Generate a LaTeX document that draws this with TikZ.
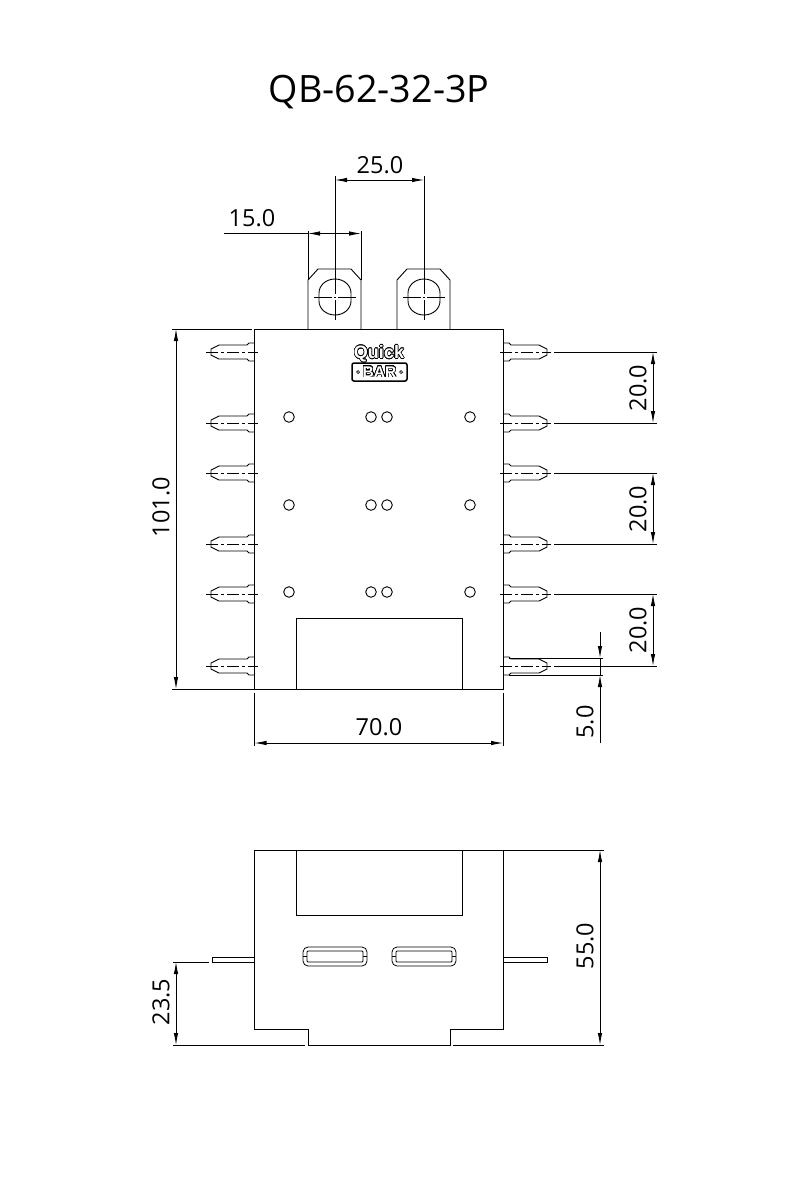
\documentclass[tikz,border=0pt]{standalone}
\usepackage{fontspec}
\setmainfont{Open Sans}
\newfontfamily\logofont{Liberation Sans}
\usepackage{contour}
\contourlength{0.55pt}
\contournumber{24}
\usetikzlibrary{arrows.meta}
\begin{document}
\begin{tikzpicture}[
		x=1pt, y=-1pt,
		line width=0.9pt,
		outline/.style={line width=0.9pt},
		thin line/.style={line width=0.8pt},
		center line/.style={line width=0.8pt, dash pattern=on 12pt off 3pt on 3pt off 3pt},
		dim line/.style={line width=0.8pt, {Latex[length=12pt,width=4.5pt]}-{Latex[length=12pt,width=4.5pt]}},
		dim out/.style={line width=0.8pt, -{Latex[length=12pt,width=4.5pt]}},
		dim label/.style={font=\fontsize{23.5}{25}\selectfont, inner sep=0pt},
		dim label v/.style={dim label, rotate=90},
		hole/.style={line width=0.9pt}
		]
	\useasboundingbox (0, 0) rectangle (800, 1200);
	
	% Title
	\node[font=\fontsize{37.7}{40}\selectfont, inner sep=0pt] (title) at (379, 92) {QB-62-32-3P};
	
	% Body, top view
	\draw[outline] (254.5, 329) rectangle (503, 689);
	\draw[outline] (296.5, 689) -- (296.5, 618) -- (462, 618) -- (462, 689);
	
	% Terminals
	\foreach \x in {308, 397}{
		\draw[outline] (\x, 329) -- (\x, 280) -- (\x+10, 269) -- (\x+43, 269) -- (\x+53, 280) -- (\x+53, 329);
	}
	\foreach \x in {335, 424}{
		\draw[outline] (\x-16, 293) arc (180:360:16 and 14) -- (\x+16, 301) arc (0:180:16 and 14) -- cycle;
		\draw[thin line] (\x-21, 297) -- (\x-3, 297);
		\draw[thin line] (\x-1, 297) -- (\x+1, 297);
		\draw[thin line] (\x+3, 297) -- (\x+21, 297);
		\draw[thin line] (\x, 272) -- (\x, 294);
		\draw[thin line] (\x, 300) -- (\x, 320);
	}
	
	% Pins
	\foreach \y in {352, 423, 473, 544, 594, 666}{
		\draw[outline] (254.5, \y-9) -- (249, \y-9) -- (247, \y-7) -- (219, \y-7) -- (211, \y-3) -- (211, \y+3) -- (219, \y+7) -- (247, \y+7) -- (249, \y+9) -- (254.5, \y+9);
		\draw[outline] (503, \y-9) -- (509, \y-9) -- (511, \y-7) -- (539, \y-7) -- (547, \y-3) -- (547, \y+3) -- (539, \y+7) -- (511, \y+7) -- (509, \y+9) -- (503, \y+9);
		\draw[center line] (206, \y) -- (258, \y);
		\draw[center line] (500, \y) -- (551, \y);
	}
	
	% Small holes
	\foreach \y in {417, 505, 592}{
		\foreach \x in {289, 371, 387, 470}{
			\draw[hole] (\x, \y) circle (5.3);
		}
	}
	
	% Logo
	\node[font=\logofont\bfseries\fontsize{18}{18}\selectfont, inner sep=0pt, text=white] (quick) at (379, 354) {\contour{black}{Quick}};
	\draw[line width=1.5pt, rounded corners=2pt] (352, 363) rectangle (407, 381);
	\node[font=\logofont\bfseries\fontsize{15.5}{16}\selectfont, inner sep=0pt, text=white] (bar) at (379.5, 372) {\contour{black}{BAR}};
	\foreach \x in {358, 401}{
		\draw[line width=0.7pt] (\x, 372) circle (1.5);
	}
	
	% Dimension 25.0
	\draw[thin line] (335, 176) -- (335, 272);
	\draw[thin line] (424, 176) -- (424, 272);
	\draw[dim line] (335, 180) -- (424, 180);
	\node[dim label] (dim25) at (380, 165) {25.0};
	
	% Dimension 15.0
	\draw[thin line] (308, 231) -- (308, 280);
	\draw[thin line] (361, 231) -- (361, 280);
	\draw[thin line] (224, 233.5) -- (308, 233.5);
	\draw[dim line] (308, 233.5) -- (361, 233.5);
	\node[dim label] (dim15) at (252, 218) {15.0};
	
	% Dimension 101.0
	\draw[thin line] (172, 329) -- (252, 329);
	\draw[thin line] (172, 689) -- (254.5, 689);
	\draw[dim line] (176, 329) -- (176, 689);
	\node[dim label v] (dim101) at (161, 507) {101.0};
	
	% Dimension 70.0
	\draw[thin line] (254.5, 693) -- (254.5, 746);
	\draw[thin line] (503, 693) -- (503, 746);
	\draw[dim line] (254.5, 743) -- (503, 743);
	\node[dim label] (dim70) at (379, 727) {70.0};
	
	% Dimensions 20.0
	\foreach \a/\b/\c/\n in {352/423/388/a, 473/544/509/b, 594/666/630/c}{
		\draw[thin line] (554, \a) -- (657, \a);
		\draw[thin line] (554, \b) -- (657, \b);
		\draw[dim line] (653, \a) -- (653, \b);
		\node[dim label v] (dim20\n) at (638, \c) {20.0};
	}
	
	% Dimension 5.0
	\draw[thin line] (509, 658) -- (603, 658);
	\draw[thin line] (509, 675) -- (603, 675);
	\draw[dim out] (600, 632) -- (600, 658);
	\draw[dim out] (600, 743) -- (600, 675);
	\draw[thin line] (600, 658) -- (600, 675);
	\node[dim label v] (dim5) at (585, 722) {5.0};
	
	% Bottom view
	\draw[outline] (254.5, 850) -- (503, 850) -- (503, 1029) -- (450, 1029) -- (450, 1045) -- (308, 1045) -- (308, 1029) -- (254.5, 1029) -- cycle;
	\draw[outline] (296.5, 850) -- (296.5, 915) -- (462, 915) -- (462, 850);
	\draw[outline] (254.5, 957) -- (212, 957) -- (212, 962) -- (254.5, 962);
	\draw[outline] (503, 957) -- (547, 957) -- (547, 962) -- (503, 962);
	\foreach \x in {303, 392}{
		\draw[thin line, rounded corners=5pt] (\x, 947) rectangle (\x+64, 966);
		\draw[thin line, rounded corners=1pt] (\x+4, 951) rectangle (\x+60, 962);
		\draw[thin line] (\x, 956) -- (\x+4, 956);
		\draw[thin line] (\x+60, 956) -- (\x+64, 956);
	}
	
	% Dimension 55.0
	\draw[thin line] (503, 850) -- (604, 850);
	\draw[thin line] (453, 1045) -- (604, 1045);
	\draw[dim line] (600, 850) -- (600, 1045);
	\node[dim label v] (dim55) at (585, 946) {55.0};
	
	% Dimension 23.5
	\draw[thin line] (173, 962) -- (209, 962);
	\draw[thin line] (173, 1045) -- (305, 1045);
	\draw[dim line] (176, 962) -- (176, 1045);
	\node[dim label v] (dim23) at (161, 1002) {23.5};

	\end{tikzpicture}
\end{document}
